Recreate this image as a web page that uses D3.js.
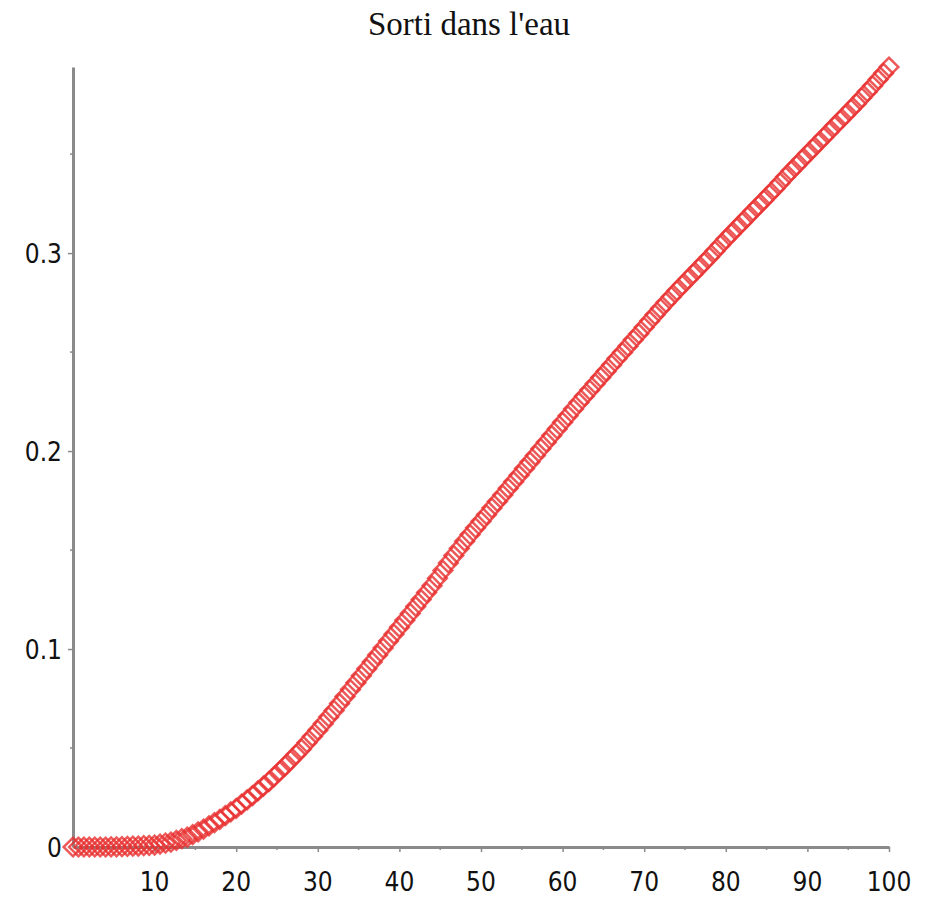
<!DOCTYPE html>
<html>
<head>
<meta charset="utf-8">
<script src="https://cdn.jsdelivr.net/npm/d3@7"></script>
<style>
  body { margin: 0; background: #fff; }
  svg { display: block; }
  .tick-label { font-family: "DejaVu Sans Condensed", "DejaVu Sans", sans-serif; font-stretch: condensed; font-size: 26px; fill: #111; }
  .title { font-family: "Liberation Serif", "Times New Roman", serif; font-size: 33px; fill: #111; }
</style>
</head>
<body>
<div id="chart"></div>
<script>
var title = "Sorti dans l'eau";

// sampled on 151 steps from 0 to 100
var xStart = 0;
var xEnd = 100;
var yValues = [
    0, 0, 0,  0, 0, 0,  0, 0.0001, 0.0001,  0.0002, 0.0003, 0.0004,
    0.0005, 0.0007, 0.0008,  0.001, 0.0015, 0.002,  0.0025, 0.0033, 0.0042,
    0.005, 0.0063, 0.0077,  0.009, 0.0107, 0.0123,  0.014, 0.0158, 0.0177,
    0.0195, 0.0217, 0.0238,  0.026, 0.0283, 0.0307,  0.033, 0.0357, 0.0383,
    0.041, 0.0438, 0.0467,  0.0495, 0.0527, 0.0558,  0.059, 0.0623, 0.0657,
    0.069, 0.0725, 0.076,  0.0795, 0.083, 0.0865,  0.090, 0.0935, 0.097,
    0.1005, 0.104, 0.1075,  0.111, 0.1145, 0.118,  0.1215, 0.125, 0.1285,
    0.132, 0.1358, 0.1397,  0.1435, 0.1472, 0.1508,  0.1545, 0.1578, 0.1612,
    0.1645, 0.1678, 0.1712,  0.1745, 0.1778, 0.1812,  0.1845, 0.1878, 0.1912,
    0.1945, 0.1978, 0.2012,  0.2045, 0.2078, 0.2112,  0.2145, 0.2178, 0.2212,
    0.2245, 0.2277, 0.2308,  0.234, 0.2372, 0.2403,  0.2435, 0.2467, 0.2498,
    0.253, 0.2562, 0.2593,  0.2625, 0.2657, 0.2688,  0.272, 0.275, 0.278,
    0.281, 0.2838, 0.2867,  0.2895, 0.2923, 0.2952,  0.298, 0.301, 0.304,
    0.307, 0.3098, 0.3127,  0.3155, 0.3183, 0.3212,  0.324, 0.3268, 0.3297,
    0.3325, 0.3355, 0.3385,  0.3415, 0.3443, 0.3472,  0.350, 0.3528, 0.3557,
    0.3585, 0.3613, 0.3642,  0.367, 0.3698, 0.3727,  0.3755, 0.3785, 0.3815,
    0.3845, 0.3877, 0.3908,  0.394
];

var xTicks = [10, 20, 30, 40, 50, 60, 70, 80, 90, 100];
var xMinorTicks = [5, 15, 25, 35, 45, 55, 65, 75, 85, 95];
var yTicks = [0, 0.1, 0.2, 0.3];
var yMinorTicks = [0.05, 0.15, 0.25, 0.35];

var width = 934, height = 899;
var axisColor = "#8a8a8a";
var markColor = "#e83030";

var svg = d3.select('#chart').append('svg')
    .attr('width', width)
    .attr('height', height);

var xScale = d3.scaleLinear().domain([0, 100]).range([73, 889]);
var yScale = d3.scaleLinear().domain([0, 0.394]).range([847, 67]);

var data = yValues.map(function(v, i) {
    return {x: xStart + i * (xEnd - xStart) / (yValues.length - 1), y: v};
});

svg.append('text')
    .attr('class', 'title')
    .attr('x', 469)
    .attr('y', 35)
    .attr('text-anchor', 'middle')
    .text(title);

// x axis
var xAxis = svg.append('g')
    .attr('transform', 'translate(0,' + yScale(0) + ')')
    .call(d3.axisBottom(xScale).tickValues(xTicks).tickSize(5).tickSizeOuter(0).tickFormat(''));
xAxis.append('g').selectAll('line').data(xMinorTicks).enter().append('line')
    .attr('x1', function(d) { return xScale(d); })
    .attr('x2', function(d) { return xScale(d); })
    .attr('y1', 0).attr('y2', 3);

// y axis
var yAxis = svg.append('g')
    .attr('transform', 'translate(' + xScale(0) + ',0)')
    .call(d3.axisLeft(yScale).tickValues(yTicks.slice(1)).tickSize(5).tickSizeOuter(0).tickFormat(''));
yAxis.append('g').selectAll('line').data(yMinorTicks).enter().append('line')
    .attr('y1', function(d) { return yScale(d); })
    .attr('y2', function(d) { return yScale(d); })
    .attr('x1', 0).attr('x2', -3);

[xAxis, yAxis].forEach(function(ax) {
    ax.select('.domain').attr('stroke', axisColor).attr('stroke-width', 3);
    ax.selectAll('line').attr('stroke', axisColor).attr('stroke-width', 1.5);
});

// tick labels
svg.append('g').selectAll('text').data(xTicks).enter().append('text')
    .attr('class', 'tick-label')
    .attr('x', function(d) { return xScale(d); })
    .attr('y', 891)
    .attr('text-anchor', 'middle')
    .text(function(d) { return d; });

svg.append('g').selectAll('text').data(yTicks).enter().append('text')
    .attr('class', 'tick-label')
    .attr('x', 62)
    .attr('y', function(d) { return yScale(d) + 10; })
    .attr('text-anchor', 'end')
    .text(function(d) { return d; });

// points
var diamond = d3.symbol().type(d3.symbolSquare).size(175);
svg.append('g').selectAll('path').data(data).enter().append('path')
    .attr('d', diamond)
    .attr('transform', function(d) {
        return 'translate(' + xScale(d.x) + ',' + yScale(d.y) + ') rotate(45)';
    })
    .attr('fill', 'none')
    .attr('stroke', markColor)
    .attr('stroke-width', 2.5)
    .attr('stroke-opacity', 0.8);
</script>
</body>
</html>
